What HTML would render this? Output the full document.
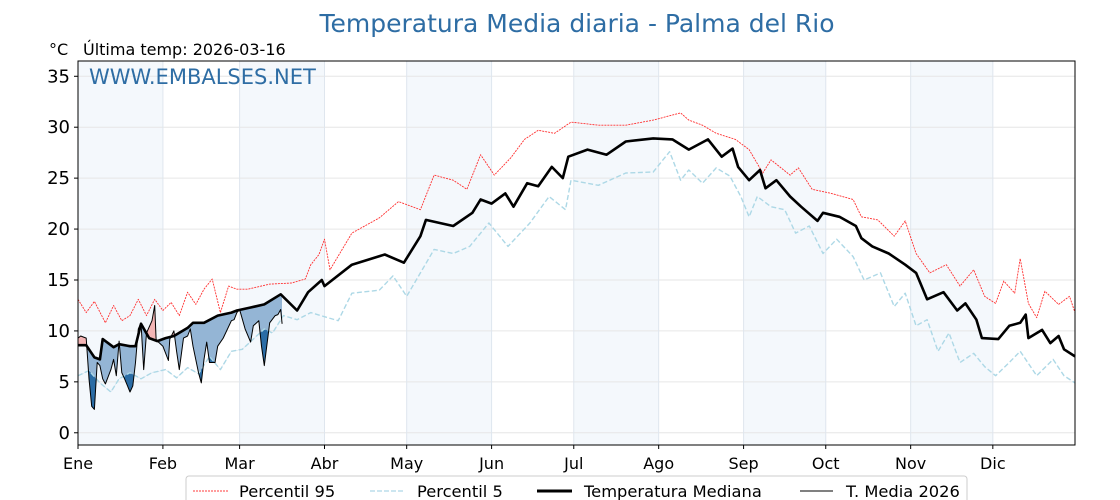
<!DOCTYPE html>
<html><head><meta charset="utf-8"><style>
body{margin:0;background:#fff;}
svg{display:block;font-family:"DejaVu Sans","Liberation Sans",sans-serif;}
</style></head><body>
<svg id="chart" width="1120" height="500" viewBox="0 0 1120 500">
<text x="577" y="32" text-anchor="middle" font-size="25" fill="#2e6da4">Temperatura Media diaria - Palma del Rio</text>
<text x="49" y="55" font-size="16" fill="#000">°C</text>
<text x="83" y="55" font-size="16" fill="#000">Última temp: 2026-03-16</text>
<g id="plot"></g>
<text x="89" y="84" font-size="21" fill="#2e6da4">WWW.EMBALSES.NET</text>
<g>
<rect x="186" y="476" width="781" height="30" rx="3" fill="#fff" stroke="#ccc"/>
<line x1="193" y1="491" x2="228" y2="491" stroke="#ff3b3b" stroke-width="1" stroke-dasharray="2,1"/>
<text x="239" y="497" font-size="16.3">Percentil 95</text>
<line x1="370" y1="491" x2="405" y2="491" stroke="#add8e6" stroke-width="1.3" stroke-dasharray="5,2"/>
<text x="417" y="497" font-size="16.3">Percentil 5</text>
<line x1="537" y1="491" x2="572" y2="491" stroke="#000" stroke-width="3"/>
<text x="584" y="497" font-size="16.3">Temperatura Mediana</text>
<line x1="800" y1="491" x2="833" y2="491" stroke="#000" stroke-width="1"/>
<text x="846" y="497" font-size="16.3">T. Media 2026</text>
</g>
</svg>
<script>
const monthLabels=["Ene","Feb","Mar","Abr","May","Jun","Jul","Ago","Sep","Oct","Nov","Dic"];
const monthStarts=[0,31,59,90,120,151,181,212,243,273,304,334];
const yTicks=[0,5,10,15,20,25,30,35];
const medDays=[0,3,6,8,9,13,15,19,21,23,26,29,32,35,40,42,46,51,56,58,63,68,74,80,84,89,90,100,112,119,125,127,137,144,147,151,156,159,164,168,173,177,179,186,193,200,210,217,223,230,235,239,241,245,249,251,255,260,264,270,272,278,284,286,290,296,302,306,310,316,321,324,328,330,336,340,344,346,347,352,355,358,360,364];
const medVals=[8.6,8.6,7.4,7.2,9.2,8.4,8.7,8.5,8.5,10.7,9.3,9.0,9.3,9.5,10.3,10.8,10.8,11.5,11.8,12,12.3,12.6,13.6,12,13.8,15,14.4,16.5,17.5,16.7,19.3,20.9,20.3,21.6,22.9,22.5,23.5,22.2,24.5,24.2,26.1,25,27.1,27.8,27.3,28.6,28.9,28.8,27.8,28.8,27.1,27.9,26.1,24.8,25.8,24,24.8,23.2,22.2,20.8,21.6,21.2,20.3,19.1,18.3,17.6,16.5,15.7,13.1,13.8,12,12.7,11.1,9.3,9.2,10.5,10.8,11.6,9.3,10.1,8.8,9.5,8.2,7.5];
const p95Days=[0,3,6,10,13,16,19,22,25,28,31,34,37,40,43,46,49,52,55,58,62,70,78,83,85,88,90,92,100,110,117,125,130,137,142,147,152,158,163,168,174,180,190,200,210,220,223,228,233,240,245,250,253,260,263,268,275,283,286,292,298,302,306,311,317,322,327,331,335,338,342,344,347,350,353,358,362,364];
const p95Vals=[13.1,11.8,12.9,10.8,12.5,11,11.5,13.1,11.5,13.1,12,12.8,11.5,13.8,12.6,14.1,15.1,11.8,14.4,14.1,14.1,14.6,14.7,15.1,16.5,17.5,19,16,19.6,21.1,22.7,21.9,25.3,24.8,23.9,27.3,25.3,27,28.8,29.7,29.4,30.5,30.2,30.2,30.7,31.4,30.7,30.2,29.4,28.8,27.8,25.5,26.8,25.3,26,23.9,23.5,22.9,21.2,20.9,19.3,20.8,17.6,15.7,16.5,14.4,16,13.4,12.7,14.9,13.7,17.1,12.7,11.3,13.9,12.6,13.4,11.8];
const p5Days=[0,4,8,12,15,19,23,27,32,36,40,44,48,52,56,60,64,68,71,75,80,85,90,95,100,110,115,120,125,130,137,143,150,157,165,172,178,180,190,200,210,216,220,223,228,233,238,242,245,248,253,258,262,267,272,277,283,287,293,298,302,306,310,314,318,322,327,331,335,340,344,350,356,360,364];
const p5Vals=[5.6,6.1,4.9,4.0,5.3,5.9,5.3,5.9,6.2,5.4,6.4,5.8,7.5,6.2,8,8.2,9.2,10.2,9.8,11.5,11.1,11.8,11.4,11,13.7,14,15.4,13.4,15.7,18,17.6,18.3,20.6,18.3,20.6,23.2,21.9,24.8,24.3,25.5,25.6,27.6,24.8,25.8,24.5,26,25.2,23.2,21.2,23.2,22.2,21.9,19.6,20.3,17.6,19,17.3,15,15.7,12.4,13.7,10.5,11.1,8,9.8,6.9,7.8,6.5,5.6,6.9,8,5.6,7.2,5.6,4.9];
const curDays=[0,1,3,4,5,6,7,8,9,10,12,13,14,15,16,17,19,20,21,22,23,24,25,27,28,28.5,29,31,33,33.5,35,36,37,38.5,40,41,42,44,45,46,47,48,50,51,53,56,57,58,59,61,63,64,66,67,68,70,72,73,74,74.5];
const curVals=[9.3,9.5,9.3,5.3,2.6,2.3,6.9,6.6,5.3,4.8,6.2,7.2,5.6,9,5.9,5.3,4,4.6,6.9,10.2,10.8,6.2,9.8,11,12.5,9.2,9,8.5,7.1,9.2,10,8,6.2,9.3,9.5,10.2,8.5,5.9,4.9,7.2,8.9,6.9,6.9,8.5,9.3,11,11.1,11.8,12.1,10.2,8.9,10.5,11,8.5,6.6,10.8,11.5,11.6,12.1,10.7];

const X0=78,X1=1075,Y0=445,Y1=61,DMAX=364,TMIN=-1.2,TMAX=36.5;
const xs=d=>X0+d*(X1-X0)/DMAX;
const ys=t=>Y0-(t-TMIN)*(Y0-Y1)/(TMAX-TMIN);
const NS="http://www.w3.org/2000/svg";
const plot=document.getElementById('plot');
function mk(tag,attrs,parent){const e=document.createElementNS(NS,tag);for(const k in attrs)e.setAttribute(k,attrs[k]);(parent||plot).appendChild(e);return e;}
const pts=(D,V)=>D.map((d,i)=>xs(d).toFixed(1)+","+ys(V[i]).toFixed(1));

monthStarts.forEach((m,i)=>{
 if(i%2===0){const end=i+1<monthStarts.length?monthStarts[i+1]:DMAX;
  const r=mk('rect',{x:xs(m),y:Y1,width:xs(end)-xs(m),height:Y0-Y1,fill:'#f4f8fc'});
  
  }
});
yTicks.forEach(t=>{const l=mk('line',{x1:X0,x2:X1,y1:ys(t),y2:ys(t),stroke:'#e6e6e6','stroke-width':1});
 
 });
monthStarts.forEach(m=>{const l=mk('line',{x1:xs(m),x2:xs(m),y1:Y1,y2:Y0,stroke:'#dfe6ee','stroke-width':1});
 
 });

const defs=mk('defs',{});
function clip(id,D,V,toBottom){const c=mk('clipPath',{id:id},defs);
 const p=pts(D,V);const yb=toBottom?Y0+50:Y1-50;
 mk('polygon',{points:xs(D[0])+","+yb+" "+p.join(" ")+" "+xs(D[D.length-1])+","+yb},c);}
clip('belowMed',medDays,medVals,true);
clip('aboveMed',medDays,medVals,false);
clip('belowP5',p5Days,p5Vals,true);
const lastD=curDays[curDays.length-1];
const mD=medDays.filter(d=>d<=lastD+6),mV=medVals.slice(0,mD.length);
const pD=p5Days.filter(d=>d<=lastD+6),pV=p5Vals.slice(0,pD.length);
const cr=mk('clipPath',{id:'curRange'},defs);
mk('rect',{x:xs(0),y:0,width:xs(lastD)-xs(0),height:500},cr);
const g=mk('g',{'clip-path':'url(#curRange)'});
function betweenG(D1,V1,D2,V2,fill,cp,name){
 const a=pts(D1,V1),b=pts(D2,V2).reverse();
 const p=mk('polygon',{points:a.concat(b).join(" "),fill:fill,'clip-path':'url(#'+cp+')'},g);
 
 }
betweenG(curDays,curVals,mD,mV,'#94b5d5','belowMed','fill-below-median');
betweenG(curDays,curVals,mD,mV,'#f3b5b5','aboveMed','fill-above-median');
betweenG(curDays,curVals,pD,pV,'#2a6ca5','belowP5','fill-below-p5');

function line(D,V,attrs,name){const p=mk('polyline',Object.assign({points:pts(D,V).join(" "),fill:'none','stroke-linejoin':'round'},attrs));
 
 }
line(p95Days,p95Vals,{stroke:'#ff3030','stroke-width':0.9,'stroke-dasharray':'2,1'},'p95-line');
line(p5Days,p5Vals,{stroke:'#add8e6','stroke-width':1.4,'stroke-dasharray':'5,2.5'},'p5-line');
line(medDays,medVals,{stroke:'#000','stroke-width':2.6},'median-line');
line(curDays,curVals,{stroke:'#000','stroke-width':1},'current-year-line');

const fr=mk('rect',{x:X0,y:Y1,width:X1-X0,height:Y0-Y1,fill:'none',stroke:'#000','stroke-width':1});


yTicks.forEach(t=>{mk('line',{x1:X0-4,x2:X0,y1:ys(t),y2:ys(t),stroke:'#000'});
 const tx=mk('text',{x:X0-8,y:ys(t)+6,'text-anchor':'end','font-size':18});tx.textContent=t;
 
 });
monthStarts.forEach((m,i)=>{mk('line',{x1:xs(m),x2:xs(m),y1:Y0,y2:Y0+4,stroke:'#000'});
 const tx=mk('text',{x:xs(m),y:469,'text-anchor':'middle','font-size':16});tx.textContent=monthLabels[i];
 
 });
</script>
</body></html>
